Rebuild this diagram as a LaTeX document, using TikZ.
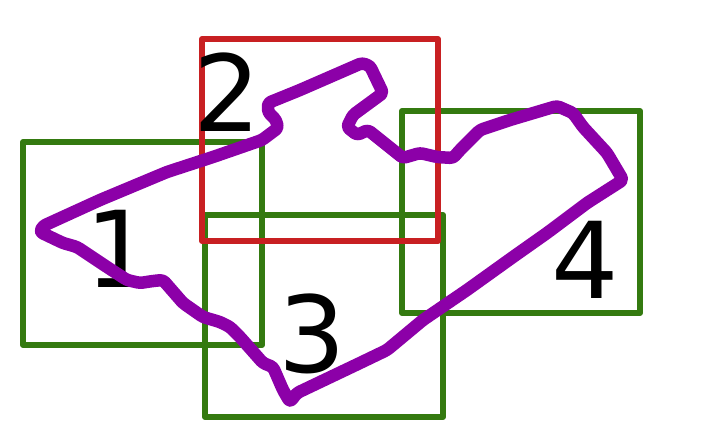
\documentclass[tikz,border=0pt]{standalone}
\usepackage{fontspec}
\setmainfont{DejaVu Sans}
\usepackage{tikz}
\usepackage{xcolor}
\definecolor{tilegreen}{RGB}{52, 122, 16}
\definecolor{tilered}{RGB}{200, 32, 34}
\definecolor{shapepurple}{RGB}{140, 0, 168}

\begin{document}
\begin{tikzpicture}[x=1pt, y=-1pt,
  tile/.style={line width=6pt, line join=round},
  tilenum/.style={inner sep=0pt, font=\fontsize{106}{106}\selectfont},
  outline/.style={shapepurple, line width=12.5pt, line join=round, line cap=round, rounded corners=3pt}]
  \useasboundingbox (0,0) rectangle (718,446);

  % tiles
  \draw[tile, tilegreen] (23,142) rectangle (262,345);
  \draw[tile, tilegreen] (205,215) rectangle (443,417);
  \draw[tile, tilegreen] (402,111) rectangle (640,313);
  \draw[tile, tilered] (202,39) rectangle (438,241);

  % tile numbers
  \node[tilenum] (n1) at (119,249) {1};
  \node[tilenum] (n2) at (227,92) {2};
  \node[tilenum] (n3) at (312,334) {3};
  \node[tilenum] (n4) at (585,260) {4};

  % outline
  \draw[outline] (43,226) -- (100,200) -- (167,172) -- (213,157) -- (262,140)
    -- (278,128) -- (276,120) -- (268,112) -- (268,103) -- (300,90) -- (362,63)
    -- (370,66) -- (383,93) -- (353,115) -- (347,127) -- (357,135) -- (368,130)
    -- (403,158) -- (420,153) -- (437,157) -- (453,158) -- (460,150) -- (480,130)
    -- (510,120) -- (557,106) -- (573,113) -- (583,127) -- (595,140) -- (607,153)
    -- (623,180) -- (587,203) -- (547,233) -- (513,257) -- (467,290) -- (423,320)
    -- (387,350) -- (360,363) -- (297,393) -- (290,402) -- (283,390) -- (273,367)
    -- (263,363) -- (240,337) -- (230,327) -- (220,322) -- (203,317) -- (193,310)
    -- (183,303) -- (163,280) -- (153,281) -- (140,283) -- (127,280) -- (107,267)
    -- (77,247) -- (63,243) -- (40,232) -- cycle;

\end{tikzpicture}
\end{document}
